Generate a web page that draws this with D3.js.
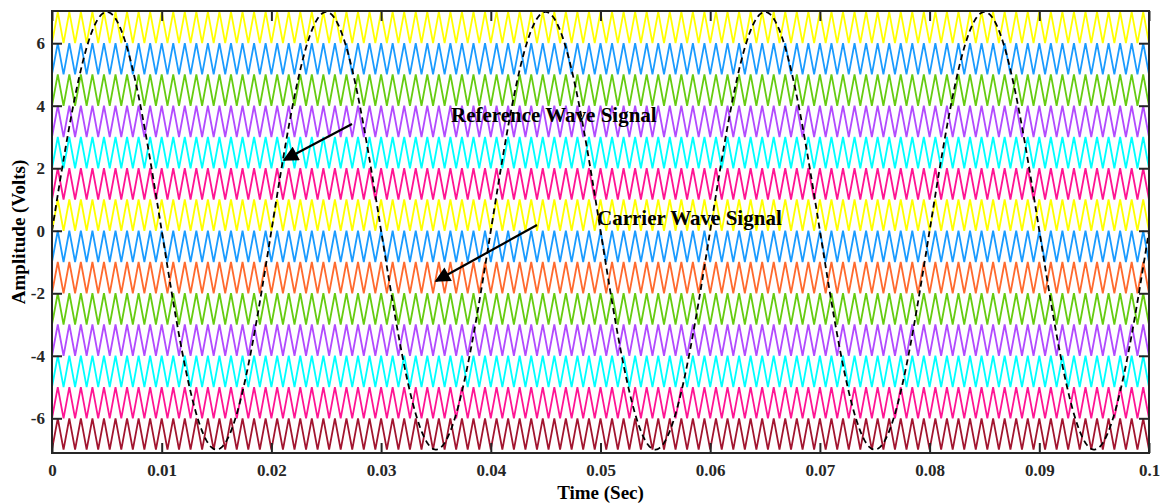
<!DOCTYPE html>
<html>
<head>
<script src="https://d3js.org/d3.v7.min.js"></script>
<style>
  body {margin: 0; background: #fff;}
  svg {font-family: "Liberation Serif", "Times New Roman", serif; font-weight: bold;}
  .axis .domain {display: none;}
  .axis text {font: bold 17px "Liberation Serif", serif; fill: #262626;}
</style>
</head>
<body>
<svg id="chart" width="1161" height="503"></svg>
<script>
// carrier bands, bottom to top (lower level of each band)
var bandLows = [-7, -6, -5, -4, -3, -2, -1, 0, 1, 2, 3, 4, 5, 6];
var bandColors = ["#a2142f", "#ff1493", "#00ffff", "#b24bff", "#66cc11", "#ff6a2e",
                  "#1a9bff", "#ffff00", "#ff1493", "#00ffff", "#b24bff", "#66cc11",
                  "#1a9bff", "#ffff00"];
var carrierFreq = 950;   // Hz
var refFreq = 50;        // Hz
var refAmp = 7;          // V
var tEnd = 0.1;
var xTicks = [0, 0.01, 0.02, 0.03, 0.04, 0.05, 0.06, 0.07, 0.08, 0.09, 0.1];
var xTickLabels = ["0", "0.01", "0.02", "0.03", "0.04", "0.05", "0.06", "0.07", "0.08", "0.09", "0.1"];
var yTicks = [-6, -4, -2, 0, 2, 4, 6];

var svg = d3.select("#chart"),
    margin = {top: 11, right: 12, bottom: 50, left: 52},
    width = +svg.attr("width") - margin.left - margin.right,
    height = +svg.attr("height") - margin.top - margin.bottom,
    g = svg.append("g").attr("transform", "translate(" + margin.left + "," + margin.top + ")");

var x = d3.scaleLinear().domain([0, tEnd]).range([0, width]);
var y = d3.scaleLinear().domain([-7.11, 7.03]).range([height, 0]);

g.append("clipPath").attr("id", "clip")
  .append("rect").attr("width", width).attr("height", height);

var plot = g.append("g").attr("clip-path", "url(#clip)");
var line = d3.line().x(function(d) { return x(d[0]); }).y(function(d) { return y(d[1]); });

// carriers: triangle, starts at the band minimum
var halfT = 1 / carrierFreq / 2;
var nHalf = Math.ceil(tEnd / halfT) + 1;
bandLows.forEach(function(lo, i) {
  var pts = [];
  for (var k = 0; k <= nHalf; k++) pts.push([k * halfT, k % 2 === 0 ? lo : lo + 1]);
  plot.append("path")
    .attr("d", line(pts))
    .attr("fill", "none")
    .attr("stroke", bandColors[i])
    .attr("stroke-width", 1.8)
    .attr("stroke-linejoin", "miter");
});

// reference sine
var refPts = d3.range(0, 2001).map(function(k) {
  var t = k * tEnd / 2000;
  return [t, refAmp * Math.sin(2 * Math.PI * refFreq * t)];
});
plot.append("path")
  .attr("d", line(refPts))
  .attr("fill", "none")
  .attr("stroke", "#000")
  .attr("stroke-width", 1.8)
  .attr("stroke-dasharray", "6,4");

// axes, ticks pointing inward on all four sides
var tick = 10;
g.append("g").attr("class", "axis")
  .attr("transform", "translate(0," + height + ")")
  .call(d3.axisBottom(x).tickValues(xTicks).tickSizeInner(-tick).tickPadding(11)
        .tickFormat(function(d, i) { return xTickLabels[i]; }));
g.append("g").attr("class", "axis")
  .call(d3.axisTop(x).tickValues(xTicks).tickSizeInner(-tick).tickFormat(""));
g.append("g").attr("class", "axis")
  .call(d3.axisLeft(y).tickValues(yTicks).tickSizeInner(-tick).tickPadding(7)
        .tickFormat(d3.format("d")));
g.append("g").attr("class", "axis")
  .attr("transform", "translate(" + width + ",0)")
  .call(d3.axisRight(y).tickValues(yTicks).tickSizeInner(-tick).tickFormat(""));
g.selectAll(".axis .tick line").attr("stroke", "#262626").attr("stroke-width", 2);
g.selectAll(".axis text").text(function() { return this.textContent.replace("−", "-"); });

g.append("rect")
  .attr("width", width).attr("height", height)
  .attr("fill", "none").attr("stroke", "#262626").attr("stroke-width", 2);

// axis titles
svg.append("text")
  .attr("x", margin.left + width / 2).attr("y", 499)
  .attr("text-anchor", "middle").attr("font-size", 19)
  .text("Time (Sec)");
svg.append("text")
  .attr("transform", "translate(25," + (margin.top + height / 2) + ") rotate(-90)")
  .attr("text-anchor", "middle").attr("font-size", 19)
  .text("Amplitude (Volts)");

// annotations
svg.append("defs").append("marker")
  .attr("id", "head").attr("viewBox", "0 0 10 10")
  .attr("refX", 9).attr("refY", 5)
  .attr("markerWidth", 8).attr("markerHeight", 7)
  .attr("markerUnits", "strokeWidth")
  .attr("orient", "auto")
  .append("path").attr("d", "M0,0L10,5L0,10Z").attr("fill", "#000");

var notes = [
  {text: "Reference Wave Signal", tx: 451, ty: 122, x1: 352, y1: 124, x2: 284, y2: 160},
  {text: "Carrier Wave Signal", tx: 597, ty: 225, x1: 537, y1: 225, x2: 436, y2: 281}
];
notes.forEach(function(n) {
  svg.append("text").attr("x", n.tx).attr("y", n.ty).attr("font-size", 21).attr("fill", "#000").text(n.text);
  svg.append("line")
    .attr("x1", n.x1).attr("y1", n.y1).attr("x2", n.x2).attr("y2", n.y2)
    .attr("stroke", "#000").attr("stroke-width", 2.2)
    .attr("marker-end", "url(#head)");
});
</script>
</body>
</html>
